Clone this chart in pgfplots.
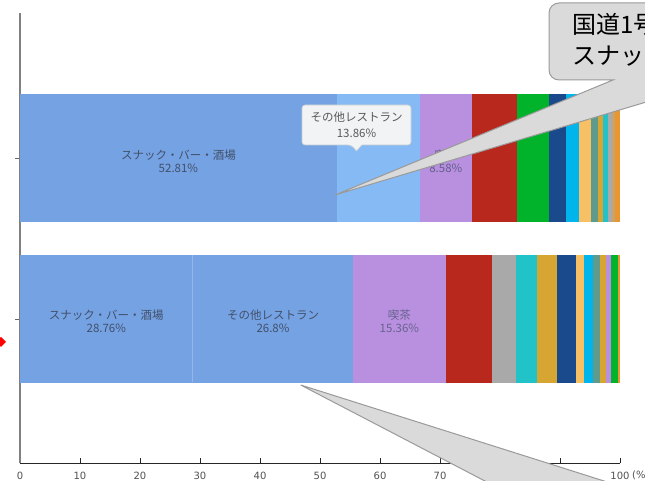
\documentclass[border=0pt]{standalone}
\usepackage{fontspec}
\usepackage{pgfplots}
\pgfplotsset{compat=1.18}
\setmainfont{DejaVu Sans}
\newfontfamily\jp{Noto Sans CJK JP}
\definecolor{cSnack}{HTML}{74A2E2}
\definecolor{cOther}{HTML}{86BAF5}
\definecolor{cPurple}{HTML}{B98FE0}
\definecolor{cRed}{HTML}{B9281C}
\definecolor{cGreen}{HTML}{00B32A}
\definecolor{cNavy}{HTML}{1B4A8C}
\definecolor{cCyan}{HTML}{00B5EC}
\definecolor{cOrange}{HTML}{F8C064}
\definecolor{cGreyGreen}{HTML}{5E9B8C}
\definecolor{cMustard}{HTML}{D6A532}
\definecolor{cTeal}{HTML}{22C3C8}
\definecolor{cGrey}{HTML}{A9A9A9}
\definecolor{cTan}{HTML}{C9A36B}
\definecolor{cDarkOr}{HTML}{E8962F}
\definecolor{labtxt}{HTML}{43506B}
\definecolor{ticktxt}{HTML}{505050}
\definecolor{callfill}{HTML}{DADADA}
\definecolor{calldraw}{HTML}{9A9A9A}
\definecolor{ttfill}{HTML}{F1F3F5}
\definecolor{ttdraw}{HTML}{C8CCD0}
\begin{document}
\begin{tikzpicture}[x=1pt,y=1pt]
\useasboundingbox (0,0) rectangle (645,481);
\clip (0,0) rectangle (645,481);
\begin{axis}[
  at={(20pt,18pt)}, anchor=south west,
  scale only axis, width=600pt, height=450pt,
  xmin=0, xmax=100, ymin=-0.8944, ymax=1.9006,
  xbar stacked, bar width=128pt,
  axis x line=bottom, axis y line=left,
  axis line style={-},
  x axis line style={black!85, line width=0.8pt},
  y axis line style={gray, line width=1.2pt},
  xtick={0,10,...,100}, ytick={0,1}, yticklabels={},
  xtick align=inside, ytick align=outside,
  major tick length=5pt,
  xtick style={black!85, line width=0.7pt},
  ytick style={gray!80!black, line width=0.8pt},
  xticklabel style={font=\fontsize{10}{12}\selectfont, text=ticktxt, yshift=-6pt},
  /pgf/number format/assume math mode=true,
  every axis plot/.append style={draw=none},
]
% --- top bar (y=1)
\addplot[fill=cSnack]     coordinates {(52.81,1) (0,0)};
\addplot[fill=cOther]     coordinates {(13.86,1) (0,0)};
\addplot[fill=cPurple]    coordinates {(8.58,1) (0,0)};
\addplot[fill=cRed]       coordinates {(7.50,1) (0,0)};
\addplot[fill=cGreen]     coordinates {(5.43,1) (0,0)};
\addplot[fill=cNavy]      coordinates {(2.83,1) (0,0)};
\addplot[fill=cCyan]      coordinates {(2.10,1) (0,0)};
\addplot[fill=cOrange]    coordinates {(2.10,1) (0,0)};
\addplot[fill=cGreyGreen] coordinates {(1.05,1) (0,0)};
\addplot[fill=cMustard]   coordinates {(0.83,1) (0,0)};
\addplot[fill=cTeal]      coordinates {(0.83,1) (0,0)};
\addplot[fill=cGrey]      coordinates {(0.67,1) (0,0)};
\addplot[fill=cTan]       coordinates {(0.60,1) (0,0)};
\addplot[fill=cDarkOr]    coordinates {(0.81,1) (0,0)};
% --- bottom bar (y=0)
\addplot[fill=cSnack]     coordinates {(0,1) (28.76,0)};
\addplot[fill=cSnack]     coordinates {(0,1) (26.80,0)};
\addplot[fill=cPurple]    coordinates {(0,1) (15.36,0)};
\addplot[fill=cRed]       coordinates {(0,1) (7.70,0)};
\addplot[fill=cGrey]      coordinates {(0,1) (4.00,0)};
\addplot[fill=cTeal]      coordinates {(0,1) (3.50,0)};
\addplot[fill=cMustard]   coordinates {(0,1) (3.33,0)};
\addplot[fill=cNavy]      coordinates {(0,1) (3.22,0)};
\addplot[fill=cOrange]    coordinates {(0,1) (1.38,0)};
\addplot[fill=cCyan]      coordinates {(0,1) (1.40,0)};
\addplot[fill=cGreyGreen] coordinates {(0,1) (1.22,0)};
\addplot[fill=cMustard]   coordinates {(0,1) (0.95,0)};
\addplot[fill=cPurple]    coordinates {(0,1) (0.93,0)};
\addplot[fill=cGreen]     coordinates {(0,1) (1.07,0)};
\addplot[fill=cDarkOr]    coordinates {(0,1) (0.38,0)};
\end{axis}
% faint divider between the two same-coloured segments of the lower bar
\draw[white!22!cSnack, line width=0.6pt] (192.6,98.5) -- (192.6,225.5);
% segment labels
\tikzset{lab/.style={font=\jp\fontsize{11.5}{13}\selectfont, text=labtxt, align=center, inner sep=0pt}}
\node[lab] at (178.4,320) {スナック・バー・酒場\\52.81\%};
\node[lab, text=labtxt!75!cPurple] at (445.8,320) {喫茶\\8.58\%};
\node[lab] at (106.3,160) {スナック・バー・酒場\\28.76\%};
\node[lab] at (273.0,160) {その他レストラン\\26.8\%};
\node[lab, text=labtxt!70!cPurple] at (399.4,160) {喫茶\\15.36\%};
% unit label
\node[anchor=west, font=\fontsize{10}{12}\selectfont, text=ticktxt, inner sep=0pt] at (632,6) {(\%)};
% tooltip
\path[draw=ttdraw, fill=ttfill, line width=0.6pt, rounded corners=3pt]
  (302,336) -- (351,336) [sharp corners] -- (356.5,330) -- (362,336) [rounded corners=3pt] -- (411,336) -- (411,376) -- (302,376) -- cycle;
\node[font=\jp\fontsize{11.5}{16}\selectfont, text=black!65, align=center] at (356.5,356) {その他レストラン\\13.86\%};
% top-right callout with pointer
\path[draw=calldraw, fill=callfill, line width=1pt]
  (720,478) -- (559,478) arc[start angle=90, end angle=180, radius=10] -- (549,411) arc[start angle=180, end angle=270, radius=10] -- (613,401) -- (335,286) -- (720,401) -- cycle;
\node[anchor=west, font=\jp\fontsize{24}{28}\selectfont, inner sep=0pt] at (572,457) {国道1号線沿い};
\node[anchor=west, font=\jp\fontsize{24}{28}\selectfont, inner sep=0pt] at (572,425) {スナック・バー・酒場};
% bottom callout pointer
\path[draw=calldraw, fill=callfill, line width=1pt]
  (300.7,96) -- (800,-62) -- (600,-60) -- cycle;
% red marker at left edge
\fill[red] (1,144) -- (6,139) -- (1,134) -- (-4,139) -- cycle;
\end{tikzpicture}
\end{document}
